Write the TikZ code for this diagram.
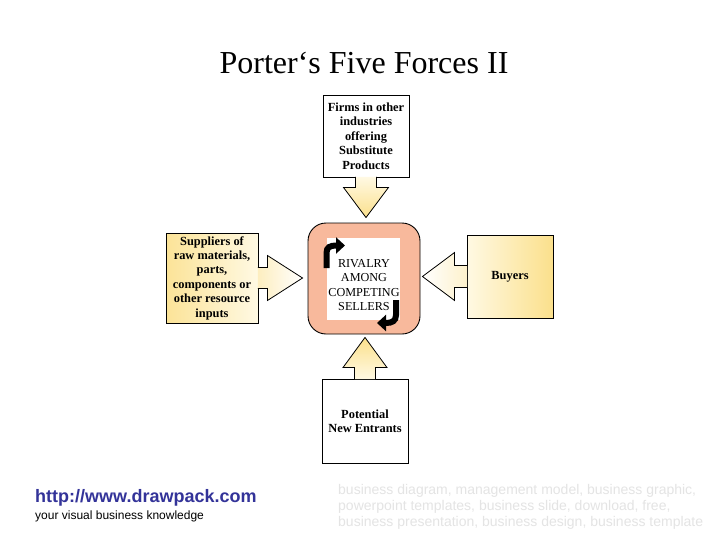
\documentclass[tikz,border=0pt]{standalone}
\usepackage{fontspec}
\setmainfont{Liberation Serif}
\setsansfont{Liberation Sans}
\usetikzlibrary{calc,arrows.meta}
\definecolor{ylw}{HTML}{FBE08C}
\definecolor{lylw}{HTML}{FFF9E3}
\definecolor{salmon}{HTML}{F8B99C}
\definecolor{linkblue}{HTML}{333399}
\definecolor{faint}{HTML}{E4E4E4}
\tikzset{
  forcebox/.style={draw, line width=0.9pt, align=center,
    font=\bfseries\fontsize{12.4}{14.4}\selectfont, inner sep=0pt},
  barrow/.style={draw, line width=0.8pt, line join=miter},
  curvarrow/.style={line width=6pt, -{Triangle[length=9pt,width=16pt]}},
}
\begin{document}
\begin{tikzpicture}[x=1pt,y=-1pt]
\useasboundingbox (0,0) rectangle (728,546);
\fill[white] (0,0) rectangle (728,546);

\node[font=\fontsize{32}{36}\selectfont, anchor=base, inner sep=0pt] (title) at (364,73) {Porter‘s Five Forces II};

% force boxes
\node[forcebox, fill=white, minimum width=86pt, minimum height=82pt] (firms) at (366,136)
  {Firms in other\\industries\\offering\\Substitute\\Products};
\node[forcebox, left color=ylw!90, right color=lylw, minimum width=92pt, minimum height=90pt] (supp) at (212,278)
  {Suppliers of\\raw materials,\\parts,\\components or\\other resource\\inputs};
\node[forcebox, left color=lylw, right color=ylw, minimum width=86pt, minimum height=83pt] (buyers) at (510,276.5)
  {Buyers};
\node[forcebox, fill=white, minimum width=86pt, minimum height=84pt] (entr) at (365,421)
  {Potential\\New Entrants};

% centre
\node[draw, line width=0.9pt, rounded corners=18pt, fill=salmon, minimum width=112pt, minimum height=111pt] (rival) at (364,278.5) {};
\node[fill=white, minimum width=73pt, minimum height=82pt, inner sep=0pt] (inner) at (363.5,279) {};
\node[align=center, font=\fontsize{12.2}{14.3}\selectfont, inner sep=0pt] (rtext) at (364,285)
  {RIVALRY\\AMONG\\COMPETING\\SELLERS};
\coordinate (c1s) at (326.5,268);
\coordinate (c1e) at (345,245.5);
\coordinate (c2s) at (396,300);
\coordinate (c2e) at (377,323);
\draw[curvarrow] (c1s) -- (326.5,253) .. controls (326.5,247) and (330,245.5) .. (337,245.5) -- (c1e);
\draw[curvarrow] (c2s) -- (396,315) .. controls (396,321) and (392,323) .. (386,323) -- (c2e);

% block arrows
\path[barrow, top color=lylw, bottom color=ylw]
  ($(firms.south)+(-10.5,-0.6)$) -- ($(firms.south)+(-10.5,10)$) -- ($(firms.south)+(-22.5,10)$)
  -- ($(firms.south |- rival.north)+(0,-5)$)
  -- ($(firms.south)+(22.5,10)$) -- ($(firms.south)+(10.5,10)$) -- ($(firms.south)+(10.5,-0.6)$);
\path[barrow, top color=ylw, bottom color=lylw]
  ($(entr.north)+(-10.5,0.6)$) -- ($(entr.north)+(-10.5,-11)$) -- ($(entr.north)+(-22,-11)$)
  -- ($(entr.north |- rival.south)+(0,3)$)
  -- ($(entr.north)+(22,-11)$) -- ($(entr.north)+(10.5,-11)$) -- ($(entr.north)+(10.5,0.6)$);
\path[barrow, left color=ylw!55, right color=white]
  ($(supp.east)+(-0.6,-10.5)$) -- ($(supp.east)+(9,-10.5)$) -- ($(supp.east)+(9,-22.5)$)
  -- ($(supp.east -| rival.west)+(-5,0)$)
  -- ($(supp.east)+(9,22.5)$) -- ($(supp.east)+(9,10.5)$) -- ($(supp.east)+(-0.6,10.5)$);
\path[barrow, left color=white, right color=ylw!45]
  ($(buyers.west)+(0.6,-11)$) -- ($(buyers.west)+(-12,-11)$) -- ($(buyers.west)+(-12,-24)$)
  -- ($(buyers.west -| rival.east)+(2,0)$)
  -- ($(buyers.west)+(-12,24)$) -- ($(buyers.west)+(-12,11)$) -- ($(buyers.west)+(0.6,11)$);

% footer
\node[anchor=west, font=\sffamily\bfseries\fontsize{18}{20}\selectfont, text=linkblue, inner sep=0pt] (url) at (35,498) {http://www.drawpack.com};
\node[anchor=west, font=\sffamily\fontsize{12}{14}\selectfont, inner sep=0pt] (slogan) at (35,516) {your visual business knowledge};
\node[anchor=north west, align=left, text=faint, font=\sffamily\fontsize{14}{16}\selectfont, inner sep=0pt] (tags) at (338,484)
  {business diagram, management model, business graphic,\\powerpoint templates, business slide, download, free,\\business presentation, business design, business template};
\end{tikzpicture}
\end{document}
